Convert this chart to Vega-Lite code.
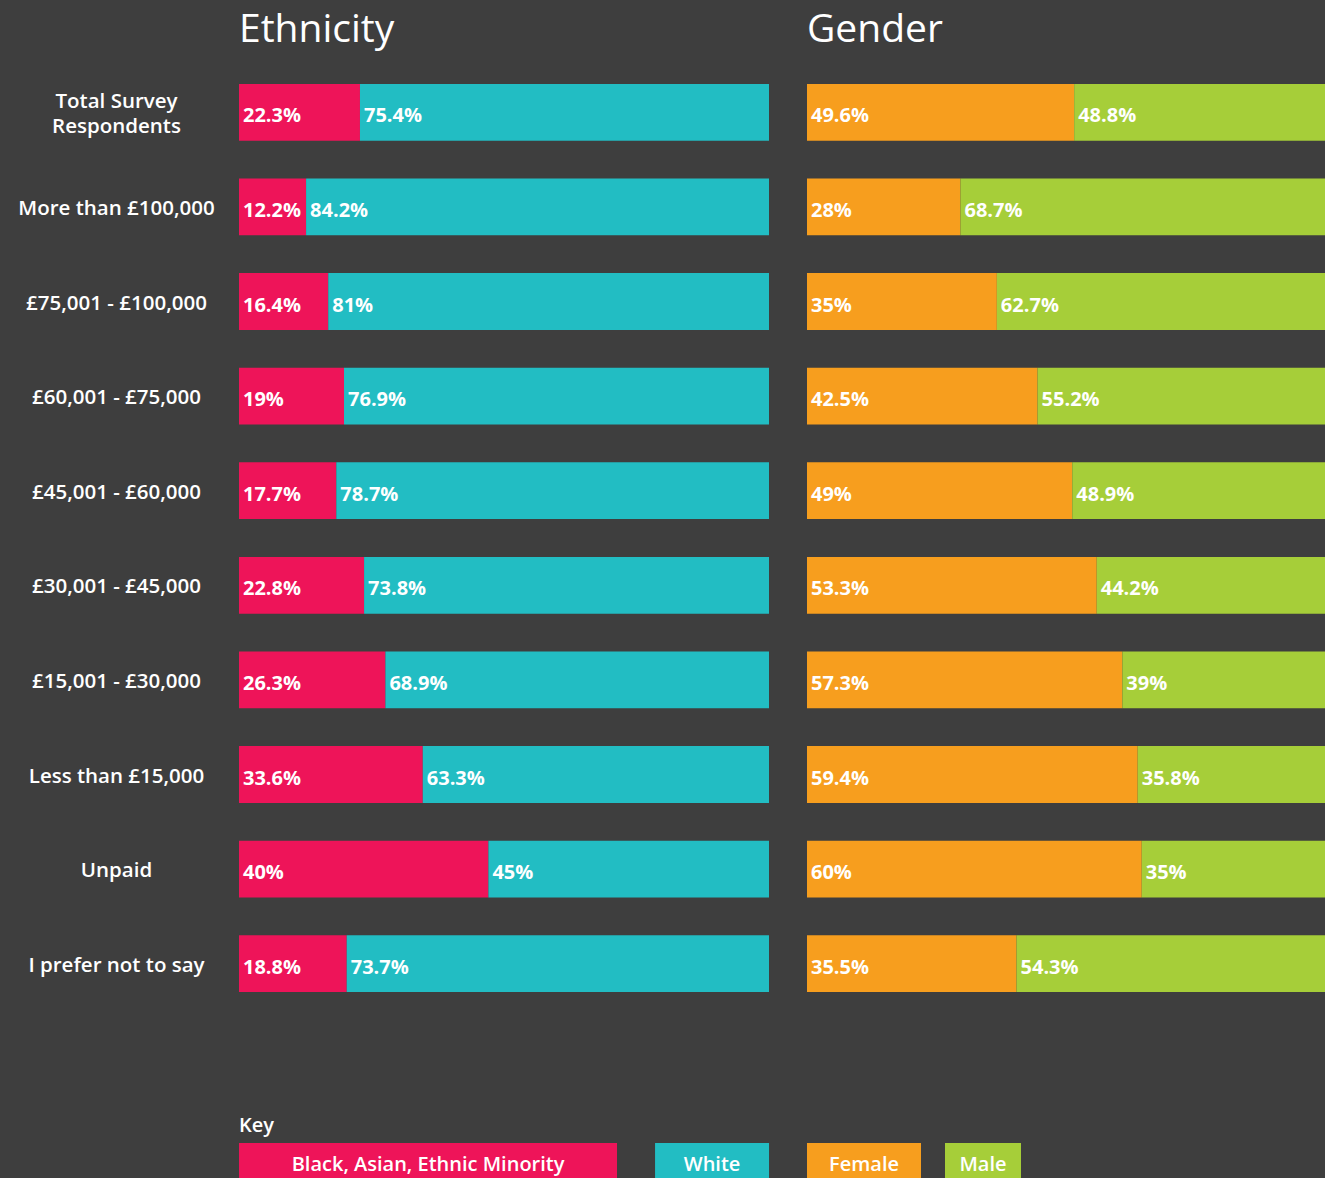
{
  "$schema": "https://vega.github.io/schema/vega-lite/v6.json",
  "background": "#3e3e3e",
  "padding": {"left": 17, "top": 11, "right": 0, "bottom": 0},
  "spacing": 37,
  "datasets": {
    "survey": [
      {"income": "Total Survey Respondents", "panel": "Ethnicity", "category": "Black, Asian, Ethnic Minority", "share": 0.223},
      {"income": "Total Survey Respondents", "panel": "Ethnicity", "category": "White", "share": 0.754},
      {"income": "More than £100,000", "panel": "Ethnicity", "category": "Black, Asian, Ethnic Minority", "share": 0.122},
      {"income": "More than £100,000", "panel": "Ethnicity", "category": "White", "share": 0.842},
      {"income": "£75,001 - £100,000", "panel": "Ethnicity", "category": "Black, Asian, Ethnic Minority", "share": 0.164},
      {"income": "£75,001 - £100,000", "panel": "Ethnicity", "category": "White", "share": 0.81},
      {"income": "£60,001 - £75,000", "panel": "Ethnicity", "category": "Black, Asian, Ethnic Minority", "share": 0.19},
      {"income": "£60,001 - £75,000", "panel": "Ethnicity", "category": "White", "share": 0.769},
      {"income": "£45,001 - £60,000", "panel": "Ethnicity", "category": "Black, Asian, Ethnic Minority", "share": 0.177},
      {"income": "£45,001 - £60,000", "panel": "Ethnicity", "category": "White", "share": 0.787},
      {"income": "£30,001 - £45,000", "panel": "Ethnicity", "category": "Black, Asian, Ethnic Minority", "share": 0.228},
      {"income": "£30,001 - £45,000", "panel": "Ethnicity", "category": "White", "share": 0.738},
      {"income": "£15,001 - £30,000", "panel": "Ethnicity", "category": "Black, Asian, Ethnic Minority", "share": 0.263},
      {"income": "£15,001 - £30,000", "panel": "Ethnicity", "category": "White", "share": 0.689},
      {"income": "Less than £15,000", "panel": "Ethnicity", "category": "Black, Asian, Ethnic Minority", "share": 0.336},
      {"income": "Less than £15,000", "panel": "Ethnicity", "category": "White", "share": 0.633},
      {"income": "Unpaid", "panel": "Ethnicity", "category": "Black, Asian, Ethnic Minority", "share": 0.40},
      {"income": "Unpaid", "panel": "Ethnicity", "category": "White", "share": 0.45},
      {"income": "I prefer not to say", "panel": "Ethnicity", "category": "Black, Asian, Ethnic Minority", "share": 0.188},
      {"income": "I prefer not to say", "panel": "Ethnicity", "category": "White", "share": 0.737},
      {"income": "Total Survey Respondents", "panel": "Gender", "category": "Female", "share": 0.496},
      {"income": "Total Survey Respondents", "panel": "Gender", "category": "Male", "share": 0.488},
      {"income": "More than £100,000", "panel": "Gender", "category": "Female", "share": 0.28},
      {"income": "More than £100,000", "panel": "Gender", "category": "Male", "share": 0.687},
      {"income": "£75,001 - £100,000", "panel": "Gender", "category": "Female", "share": 0.35},
      {"income": "£75,001 - £100,000", "panel": "Gender", "category": "Male", "share": 0.627},
      {"income": "£60,001 - £75,000", "panel": "Gender", "category": "Female", "share": 0.425},
      {"income": "£60,001 - £75,000", "panel": "Gender", "category": "Male", "share": 0.552},
      {"income": "£45,001 - £60,000", "panel": "Gender", "category": "Female", "share": 0.49},
      {"income": "£45,001 - £60,000", "panel": "Gender", "category": "Male", "share": 0.489},
      {"income": "£30,001 - £45,000", "panel": "Gender", "category": "Female", "share": 0.533},
      {"income": "£30,001 - £45,000", "panel": "Gender", "category": "Male", "share": 0.442},
      {"income": "£15,001 - £30,000", "panel": "Gender", "category": "Female", "share": 0.573},
      {"income": "£15,001 - £30,000", "panel": "Gender", "category": "Male", "share": 0.39},
      {"income": "Less than £15,000", "panel": "Gender", "category": "Female", "share": 0.594},
      {"income": "Less than £15,000", "panel": "Gender", "category": "Male", "share": 0.358},
      {"income": "Unpaid", "panel": "Gender", "category": "Female", "share": 0.60},
      {"income": "Unpaid", "panel": "Gender", "category": "Male", "share": 0.35},
      {"income": "I prefer not to say", "panel": "Gender", "category": "Female", "share": 0.355},
      {"income": "I prefer not to say", "panel": "Gender", "category": "Male", "share": 0.543}
    ],
    "keys": [
      {"panel": "Ethnicity", "label": "Black, Asian, Ethnic Minority"},
      {"panel": "Ethnicity", "label": "White"},
      {"panel": "Gender", "label": "Female"},
      {"panel": "Gender", "label": "Male"}
    ]
  },
  "hconcat": [
    {
      "spacing": 105,
      "vconcat": [
        {
          "width": 530,
          "height": 946,
          "title": {"text": "Ethnicity", "anchor": "start", "frame": "group", "fontSize": 39, "fontWeight": "normal", "color": "white", "offset": 15, "baseline": "top"},
          "data": {"name": "survey"},
          "transform": [
            {"filter": "datum.panel === 'Ethnicity'"},
            {"stack": "share", "groupby": ["income"], "sort": [{"field": "category", "order": "ascending"}], "offset": "normalize", "as": ["s0", "s1"]}
          ],
          "encoding": {
            "y": {
              "field": "income", "type": "nominal",
              "sort": ["Total Survey Respondents", "More than £100,000", "£75,001 - £100,000", "£60,001 - £75,000", "£45,001 - £60,000", "£30,001 - £45,000", "£15,001 - £30,000", "Less than £15,000", "Unpaid", "I prefer not to say"],
              "scale": {"paddingInner": 0.4, "paddingOuter": 0.2},
              "axis": {
                "title": null, "domain": false, "ticks": false, "grid": false,
                "labelAlign": "center", "labelBaseline": "middle", "labelPadding": 123,
                "labelFontSize": 20.5, "labelFontWeight": 600, "labelColor": "white", "labelLimit": 0,
                "labelLineHeight": 25,
                "labelOffset": {"condition": {"test": "datum.label === 'Total Survey Respondents'", "value": -10}, "value": 2},
                "labelExpr": "datum.label === 'Total Survey Respondents' ? ['Total Survey', 'Respondents'] : datum.label"
              }
            }
          },
          "layer": [
            {
              "mark": {"type": "bar"},
              "encoding": {
                "x": {"field": "s0", "type": "quantitative", "scale": {"domain": [0, 1], "nice": false}, "axis": null},
                "x2": {"field": "s1"},
                "color": {"field": "category", "type": "nominal", "scale": {"domain": ["Black, Asian, Ethnic Minority", "White"], "range": ["#ee1459", "#22bdc3"]}, "legend": null}
              }
            },
            {
              "mark": {"type": "text", "align": "left", "baseline": "middle", "dx": 4, "dy": 4, "fontSize": 20, "fontWeight": "bold", "color": "white"},
              "encoding": {
                "x": {"field": "s0", "type": "quantitative"},
                "text": {"field": "share", "type": "quantitative", "format": ".1~%"}
              }
            }
          ]
        },
        {
          "width": 530,
          "height": 35,
          "title": {"text": "Key", "anchor": "start", "fontSize": 20, "fontWeight": 600, "color": "white", "offset": 7, "baseline": "top"},
          "data": {"name": "keys"},
          "transform": [{"filter": "datum.panel === 'Ethnicity'"}],
          "encoding": {
            "x": {"field": "label", "type": "nominal", "sort": null, "scale": {"paddingInner": 0.599, "paddingOuter": 0.2325, "align": 1}, "axis": null}
          },
          "layer": [
            {
              "mark": {"type": "bar", "orient": "vertical"},
              "encoding": {
                "color": {"field": "label", "type": "nominal", "scale": {"domain": ["Black, Asian, Ethnic Minority", "White"], "range": ["#ee1459", "#22bdc3"]}, "legend": null},
                "size": {"field": "label", "type": "ordinal", "scale": {"type": "point", "domain": ["Black, Asian, Ethnic Minority", "White"], "range": [378, 114]}, "legend": null}
              }
            },
            {
              "mark": {"type": "text", "baseline": "middle", "dy": 4, "fontSize": 20, "fontWeight": 600, "color": "white"},
              "encoding": {"text": {"field": "label"}}
            }
          ]
        }
      ]
    },
    {
      "spacing": 105,
      "vconcat": [
        {
          "width": 519,
          "height": 946,
          "title": {"text": "Gender", "anchor": "start", "frame": "group", "fontSize": 39, "fontWeight": "normal", "color": "white", "offset": 15, "baseline": "top"},
          "data": {"name": "survey"},
          "transform": [
            {"filter": "datum.panel === 'Gender'"},
            {"stack": "share", "groupby": ["income"], "sort": [{"field": "category", "order": "ascending"}], "offset": "normalize", "as": ["s0", "s1"]}
          ],
          "encoding": {
            "y": {
              "field": "income", "type": "nominal",
              "sort": ["Total Survey Respondents", "More than £100,000", "£75,001 - £100,000", "£60,001 - £75,000", "£45,001 - £60,000", "£30,001 - £45,000", "£15,001 - £30,000", "Less than £15,000", "Unpaid", "I prefer not to say"],
              "scale": {"paddingInner": 0.4, "paddingOuter": 0.2},
              "axis": null
            }
          },
          "layer": [
            {
              "mark": {"type": "bar", "clip": true},
              "encoding": {
                "x": {"field": "s0", "type": "quantitative", "scale": {"domain": [0, 0.97925], "nice": false}, "axis": null},
                "x2": {"field": "s1"},
                "color": {"field": "category", "type": "nominal", "scale": {"domain": ["Female", "Male"], "range": ["#f79e1e", "#a6ce39"]}, "legend": null}
              }
            },
            {
              "mark": {"type": "text", "align": "left", "baseline": "middle", "dx": 4, "dy": 4, "fontSize": 20, "fontWeight": "bold", "color": "white"},
              "encoding": {
                "x": {"field": "s0", "type": "quantitative"},
                "text": {"field": "share", "type": "quantitative", "format": ".1~%"}
              }
            }
          ]
        },
        {
          "width": 233,
          "height": 35,
          "title": {"text": " ", "anchor": "start", "fontSize": 20, "fontWeight": 600, "color": "white", "offset": 7, "baseline": "top"},
          "data": {"name": "keys"},
          "transform": [{"filter": "datum.panel === 'Gender'"}],
          "encoding": {
            "x": {"field": "label", "type": "nominal", "sort": null, "scale": {"paddingInner": 0.042, "paddingOuter": 0, "align": 0}, "axis": null}
          },
          "layer": [
            {
              "mark": {"type": "bar", "orient": "vertical"},
              "encoding": {
                "color": {"field": "label", "type": "nominal", "scale": {"domain": ["Female", "Male"], "range": ["#f79e1e", "#a6ce39"]}, "legend": null},
                "size": {"field": "label", "type": "ordinal", "scale": {"type": "point", "domain": ["Female", "Male"], "range": [114, 76]}, "legend": null}
              }
            },
            {
              "mark": {"type": "text", "baseline": "middle", "dy": 4, "fontSize": 20, "fontWeight": 600, "color": "white"},
              "encoding": {"text": {"field": "label"}}
            }
          ]
        }
      ]
    }
  ],
  "resolve": {"scale": {"color": "independent", "x": "independent", "size": "independent"}},
  "config": {
    "font": "Open Sans",
    "view": {"stroke": null},
    "title": {"color": "white", "font": "Open Sans"},
    "axis": {"labelFont": "Open Sans"},
    "text": {"font": "Open Sans"}
  }
}
